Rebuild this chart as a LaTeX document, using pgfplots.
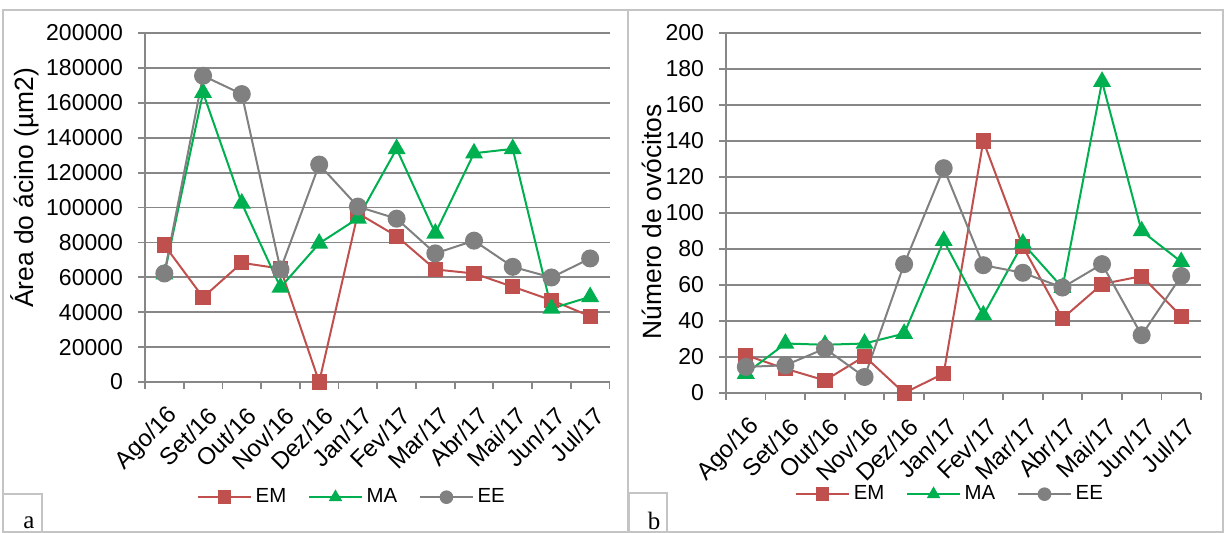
\documentclass[border=0pt]{standalone}
\usepackage{fontspec}
\setmainfont{Liberation Sans}
\newfontfamily\seriffont{Liberation Serif}
\usepackage{pgfplots}
\pgfplotsset{compat=1.18}
\definecolor{cEM}{HTML}{C0504D}
\definecolor{cMA}{HTML}{00B050}
\definecolor{cEE}{HTML}{808080}
\definecolor{gridc}{HTML}{878787}
\definecolor{framec}{HTML}{C4C4C4}
\pgfplotsset{
 mystyle/.style={
  scale only axis,
  scaled y ticks=false,
  axis x line*=bottom, axis y line*=left,
  axis line style={gridc, line width=0.9pt, -},
  xmin=-0.5, xmax=11.5,
  xtick={-0.5,0.5,...,11.5},
  x tick label as interval,
  xticklabels={Ago/16,Set/16,Out/16,Nov/16,Dez/16,Jan/17,Fev/17,Mar/17,Abr/17,Mai/17,Jun/17,Jul/17},
  tick align=outside,
  major tick length=3.5pt,
  tick style={gridc, line width=0.9pt},
  ymajorgrids, major grid style={gridc, line width=0.9pt},
  yticklabel style={font=\fontsize{11.5}{13}\selectfont, xshift=-4pt},
  xticklabel style={font=\fontsize{12}{14}\selectfont, rotate=45, anchor=east, inner sep=0pt, yshift=-11.5pt, xshift=-4.5pt},
  ylabel style={font=\fontsize{13.2}{15}\selectfont},
  legend columns=3,
  legend style={draw=none, fill=none, font=\fontsize{10.2}{12}\selectfont, anchor=center,
    /tikz/every even column/.append style={column sep=9pt}},
  legend image code/.code={\draw[mark repeat=2,mark phase=2,mark size=2.9pt] plot coordinates {(0cm,0cm)(0.46cm,0cm)(0.92cm,0cm)};},
  clip=false,
 },
 sEM/.style={cEM, line width=1pt, mark=square*, mark size=3.3pt, mark options={solid, fill=cEM, draw=cEM}},
 sMA/.style={cMA, line width=1pt, mark=triangle*, mark size=4.2pt, mark options={solid, fill=cMA, draw=cMA}},
 sEE/.style={cEE, line width=1pt, mark=*, mark size=4pt, mark options={solid, fill=cEE, draw=cEE}},
}
\begin{document}
\begin{tikzpicture}
\useasboundingbox (0,0) rectangle (613pt,266pt);
\draw[framec, line width=0.9pt] (1.5pt,0) rectangle (314pt,261pt);
\draw[framec, line width=0.9pt] (314pt,0) rectangle (611.5pt,261pt);
\draw[framec, line width=0.9pt] (1.5pt,0) rectangle (21pt,19pt);
\draw[framec, line width=0.9pt] (314.5pt,0) rectangle (333.5pt,19.5pt);
\node[anchor=base, font=\seriffont\fontsize{12.5}{14}\selectfont, inner sep=0pt] at (14.5pt,1.8pt) {a};
\node[anchor=base, font=\seriffont\fontsize{12.5}{14}\selectfont, inner sep=0pt] at (327pt,1.5pt) {b};

\begin{axis}[mystyle,
  at={(72.5pt,75pt)}, anchor=south west,
  width=232.25pt, height=174.5pt,
  ymin=0, ymax=200000,
  ytick={0,20000,40000,60000,80000,100000,120000,140000,160000,180000,200000},
  yticklabels={0,20000,40000,60000,80000,100000,120000,140000,160000,180000,200000},
  ylabel={Área do ácino (µm2)},
  ylabel style={at={(axis description cs:-0.258,0.556)}, anchor=center},
  legend style={at={(axis description cs:0.448,-0.33)}},
]
\addplot[sEM] coordinates {(0,78500)(1,48500)(2,68300)(3,65000)(4,0)(5,96700)(6,83600)(7,64500)(8,62200)(9,54600)(10,46900)(11,37700)};
\addplot[sMA] coordinates {(0,61800)(1,165800)(2,102400)(3,54200)(4,79400)(5,93800)(6,133600)(7,85200)(8,131100)(9,133600)(10,42100)(11,48800)};
\addplot[sEE] coordinates {(0,62200)(1,175500)(2,165000)(3,64500)(4,124600)(5,100500)(6,93600)(7,73700)(8,81000)(9,66000)(10,59900)(11,70800)};
\legend{EM,MA,EE}
\end{axis}

\begin{axis}[mystyle,
  at={(363pt,69.5pt)}, anchor=south west,
  width=237.5pt, height=180pt,
  ymin=0, ymax=200,
  ytick={0,20,40,60,80,100,120,140,160,180,200},
  yticklabels={0,20,40,60,80,100,120,140,160,180,200},
  ylabel={Número de ovócitos},
  ylabel style={at={(axis description cs:-0.156,0.475)}, anchor=center},
  legend style={at={(axis description cs:0.474,-0.281)}},
]
\addplot[sEM] coordinates {(0,21)(1,13.5)(2,7)(3,20.4)(4,0)(5,10.8)(6,140)(7,81.3)(8,41.4)(9,60.5)(10,64.9)(11,42.7)};
\addplot[sMA] coordinates {(0,10.8)(1,27.5)(2,26.8)(3,27.5)(4,33)(5,84.6)(6,43.2)(7,83.1)(8,58.5)(9,173)(10,90)(11,72.9)};
\addplot[sEE] coordinates {(0,14.5)(1,15.4)(2,24.7)(3,8.9)(4,71.6)(5,124.9)(6,71)(7,66.8)(8,58.6)(9,71.6)(10,32.1)(11,65)};
\legend{EM,MA,EE}
\end{axis}
\end{tikzpicture}
\end{document}
